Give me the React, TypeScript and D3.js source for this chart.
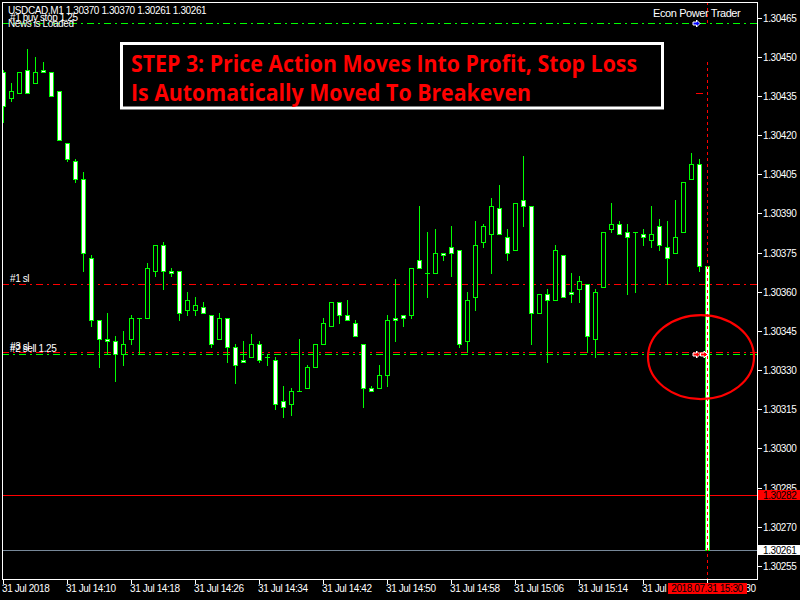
import * as React from "react"
import * as d3 from "d3"

// USDCAD M1, 31 Jul 2018 from 14:02
const symbol = "USDCAD,M1"
const startTime = new Date(2018, 6, 31, 14, 2)

const opens = [
  1.30444, 1.30434, 1.30436, 1.30445, 1.3044, 1.30445, 1.30444, 1.30437, 1.30417, 1.3041,
  1.30403, 1.30373, 1.30349, 1.30342, 1.30341, 1.30336, 1.30342, 1.3035, 1.3035, 1.30368,
  1.30378, 1.30368, 1.30368, 1.30353, 1.30353, 1.30354, 1.30351, 1.30342, 1.3035, 1.30339,
  1.30334, 1.30335, 1.3034, 1.30335, 1.30334, 1.30318, 1.30317, 1.30322, 1.30323, 1.30331,
  1.3034, 1.30347, 1.30356, 1.30351, 1.30348, 1.3034, 1.30323, 1.30323, 1.30328, 1.3035,
  1.30351, 1.30351, 1.30372, 1.30367, 1.30367, 1.30375, 1.30377, 1.30376, 1.30341, 1.30358,
  1.30379, 1.30382, 1.30392, 1.30381, 1.30376, 1.30395, 1.30393, 1.30352, 1.30359, 1.30357,
  1.30374, 1.3036, 1.30361, 1.30363, 1.30342, 1.30362, 1.30384, 1.30386, 1.30383, 1.30383,
  1.30382, 1.3038, 1.30385, 1.30377, 1.30375, 1.30383, 1.30403, 1.30409, 1.3037,
]
const highs = [
  1.30445, 1.3044, 1.30444, 1.30453, 1.3045, 1.30448, 1.30444, 1.30437, 1.30417, 1.30411,
  1.30406, 1.30374, 1.30349, 1.30352, 1.30343, 1.30345, 1.30351, 1.3035, 1.30371, 1.30378,
  1.30379, 1.30369, 1.30368, 1.3036, 1.30358, 1.30356, 1.30351, 1.30352, 1.3035, 1.3034,
  1.30341, 1.30344, 1.30341, 1.30336, 1.30335, 1.30324, 1.30323, 1.30342, 1.30332, 1.3034,
  1.3035, 1.30356, 1.30356, 1.30357, 1.30349, 1.3034, 1.30324, 1.30332, 1.30351, 1.30365,
  1.30351, 1.30369, 1.30393, 1.30383, 1.30384, 1.30375, 1.30385, 1.30376, 1.3036, 1.30387,
  1.30386, 1.30396, 1.30401, 1.30384, 1.30394, 1.30412, 1.30393, 1.30359, 1.30361, 1.30378,
  1.30374, 1.30367, 1.30366, 1.30363, 1.30361, 1.30383, 1.30394, 1.30387, 1.30386, 1.30383,
  1.30384, 1.30393, 1.30388, 1.30387, 1.30395, 1.30402, 1.30413, 1.30411, 1.3037,
]
const lows = [
  1.30425, 1.30433, 1.30436, 1.30436, 1.3044, 1.30444, 1.30435, 1.30418, 1.3041, 1.30402,
  1.30368, 1.30347, 1.30331, 1.30336, 1.30326, 1.30332, 1.3034, 1.30336, 1.3035, 1.30366,
  1.30361, 1.30366, 1.30349, 1.30351, 1.30351, 1.30352, 1.30339, 1.30342, 1.30333, 1.30325,
  1.30333, 1.30335, 1.30333, 1.30332, 1.30315, 1.30312, 1.30313, 1.30322, 1.30323, 1.30331,
  1.3034, 1.30347, 1.30348, 1.30349, 1.30343, 1.30316, 1.30322, 1.30323, 1.30324, 1.30341,
  1.30347, 1.3035, 1.30369, 1.30358, 1.30367, 1.30372, 1.30366, 1.30339, 1.30337, 1.30353,
  1.30377, 1.30367, 1.30382, 1.30372, 1.30376, 1.30385, 1.3034, 1.30352, 1.30333, 1.30357,
  1.30358, 1.30356, 1.30356, 1.30337, 1.30335, 1.30362, 1.30383, 1.30382, 1.30359, 1.3036,
  1.30378, 1.30377, 1.30376, 1.30363, 1.30375, 1.30383, 1.30403, 1.30368, 1.30261,
]
const closes = [
  1.30431, 1.30437, 1.30444, 1.30436, 1.30444, 1.30444, 1.30435, 1.30418, 1.30411, 1.30403,
  1.30375, 1.30349, 1.30342, 1.30341, 1.30336, 1.3034, 1.3035, 1.3035, 1.30369, 1.30378,
  1.30368, 1.30367, 1.30352, 1.30357, 1.30355, 1.30352, 1.3034, 1.3035, 1.30339, 1.30332,
  1.30333, 1.3034, 1.30334, 1.30335, 1.30317, 1.30316, 1.30322, 1.30322, 1.30331, 1.3034,
  1.30348, 1.30356, 1.30351, 1.30349, 1.30343, 1.30323, 1.30322, 1.30328, 1.30349, 1.30349,
  1.3035, 1.30369, 1.30369, 1.30367, 1.30375, 1.30374, 1.30375, 1.3034, 1.30357, 1.30378,
  1.30385, 1.30393, 1.30382, 1.30375, 1.30394, 1.30393, 1.30352, 1.30359, 1.30357, 1.30376,
  1.30358, 1.30359, 1.30364, 1.30343, 1.3036, 1.30383, 1.30386, 1.30382, 1.30381, 1.30383,
  1.30381, 1.30382, 1.30378, 1.30373, 1.30381, 1.30402, 1.30409, 1.3037, 1.30261,
]

const priceTicks = [
  1.30465, 1.3045, 1.30435, 1.3042, 1.30405, 1.3039, 1.30375, 1.3036, 1.30345, 1.3033,
  1.30315, 1.303, 1.30285, 1.3027, 1.30255,
]
const timeTicks = [
  "14:02", "14:10", "14:18", "14:26", "14:34", "14:42", "14:50", "14:58", "15:06", "15:14",
  "15:22", "15:30",
]
const timeTickLabels = [
  "31 Jul 2018", "31 Jul 14:10", "31 Jul 14:18", "31 Jul 14:26", "31 Jul 14:34",
  "31 Jul 14:42", "31 Jul 14:50", "31 Jul 14:58", "31 Jul 15:06", "31 Jul 15:14",
  "31 Jul 15:22", "31 Jul 15:30",
]

const orderLines = [
  { label: "#1 buy stop 1.25", price: 1.30463, color: "#00ff00" },
  { label: "#1 sl", price: 1.30363, color: "#ff0000" },
  { label: "#3 sl", price: 1.30337, color: "#ff0000" },
  { label: "#2 sell 1.25", price: 1.30336, color: "#00ff00" },
]
const askPrice = 1.30282
const bidPrice = 1.30261
const tpMark = 1.30436
const ellipsePrice = 1.30335
const titleLines = [
  "STEP 3: Price Action Moves Into Profit, Stop Loss",
  "Is Automatically Moved To Breakeven",
]

const axisFont = {
  fontFamily: "'Liberation Sans', Arial, sans-serif",
  fontSize: 10,
  letterSpacing: -0.4,
}

export default function App() {
  const plot = { left: 2, top: 2, right: 757, bottom: 579 }
  const times = opens.map((_, i) => d3.timeMinute.offset(startTime, i))
  const last = times.length - 1

  const x = d3.scaleTime().domain([times[0], times[last]]).range([3, 707])
  const y = d3.scaleLinear().domain([1.30465, 1.30255]).range([17.5, 566])
  const px = (v: number) => Math.round(v) + 0.5
  const parseTick = (s: string) => {
    const [h, m] = s.split(":").map(Number)
    return new Date(2018, 6, 31, h, m)
  }

  const f5 = d3.format(".5f")
  const header = `${symbol}  ${f5(opens[last])} ${f5(highs[last])} ${f5(lows[last])} ${f5(closes[last])}`

  const lastX = Math.round(x(times[last]))
  const prevX = Math.round(x(times[last - 1]))

  const arrow = (tipX: number, tipY: number, fill: string, key: string) => (
    <path
      key={key}
      d={`M${tipX},${tipY} l-3.5,-3.5 v2 h-3.5 v3 h3.5 v2 z`}
      fill={fill}
      stroke="#ffffff"
      strokeWidth={1}
    />
  )

  return (
    <svg
      width={800}
      height={600}
      style={{ position: "fixed", left: 0, top: 0, background: "#000" }}
    >
      <rect width={800} height={600} fill="#000" />
      <defs>
        <clipPath id="plot">
          <rect
            x={plot.left + 1}
            y={plot.top + 1}
            width={plot.right - plot.left - 1}
            height={plot.bottom - plot.top - 1}
          />
        </clipPath>
      </defs>

      <g clipPath="url(#plot)">
        {/* ask / bid lines */}
        <line x1={plot.left} x2={plot.right} y1={px(y(askPrice))} y2={px(y(askPrice))} stroke="#ff0000" />
        <line x1={plot.left} x2={plot.right} y1={px(y(bidPrice))} y2={px(y(bidPrice))} stroke="#778899" />

        {/* order lines */}
        {orderLines.map((d) => (
          <line
            key={d.label}
            x1={plot.left}
            x2={plot.right}
            y1={px(y(d.price))}
            y2={px(y(d.price))}
            stroke={d.color}
            strokeDasharray="7,4,2,4"
          />
        ))}

        {/* candles */}
        {times.map((t, i) => {
          const o = opens[i], c = closes[i]
          const cx = Math.round(x(t))
          const top = Math.round(y(Math.max(o, c)))
          const bot = Math.round(y(Math.min(o, c)))
          const hi = Math.round(y(highs[i]))
          const lo = Math.round(y(lows[i]))
          return (
            <g key={i}>
              <line x1={cx + 0.5} x2={cx + 0.5} y1={hi} y2={lo + 1} stroke="#00ff00" />
              {top === bot ? (
                <line x1={cx - 2} x2={cx + 3} y1={top + 0.5} y2={top + 0.5} stroke="#00ff00" />
              ) : (
                <rect
                  x={cx - 1.5}
                  y={top + 0.5}
                  width={4}
                  height={bot - top}
                  fill={c > o ? "#000000" : "#ffffff"}
                  stroke="#00ff00"
                />
              )}
            </g>
          )
        })}

        {/* current bar marker */}
        <line x1={lastX + 0.5} x2={lastX + 0.5} y1={plot.top} y2={px(y(1.30463))} stroke="#ff0000" strokeDasharray="3,3" />
        <line x1={lastX + 0.5} x2={lastX + 0.5} y1={62} y2={plot.bottom} stroke="#ff0000" strokeDasharray="3,3" />
        <line x1={prevX - 3} x2={prevX + 4} y1={px(y(tpMark))} y2={px(y(tpMark))} stroke="#ff0000" />

        {arrow(prevX + 1, px(y(1.30463)), "#0000ff", "buy")}
        {arrow(prevX + 1, px(y(1.30336)), "#ff0000", "s1")}
        {arrow(lastX + 0.5, px(y(1.30336)), "#ff0000", "s2")}

        <ellipse
          cx={lastX - 6}
          cy={y(ellipsePrice)}
          rx={53}
          ry={42}
          fill="none"
          stroke="#ff0000"
          strokeWidth={2.2}
        />

        {/* order labels */}
        {orderLines.map((d, i) => (
          <text
            key={d.label}
            x={i === 0 ? 10 : 10}
            y={Math.round(y(d.price)) - 2}
            fill="#ffffff"
            {...axisFont}
          >
            {d.label}
          </text>
        ))}
        <text x={8} y={14} fill="#ffffff" {...axisFont}>{header}</text>
        <text x={8} y={27} fill="#ffffff" {...axisFont}>News is Loaded</text>
        <text x={653} y={17} fill="#ffffff" {...axisFont} fontSize={11}>Econ Power Trader</text>

        {/* title box */}
        <rect x={121.5} y={43.5} width={541} height={64.5} fill="#000" stroke="#ffffff" strokeWidth={3} />
        {titleLines.map((s, i) => (
          <text
            key={s}
            x={131}
            y={72 + i * 29}
            fill="#ff0000"
            fontFamily="'Liberation Sans Narrow', 'Open Sans', Arial, sans-serif"
            fontWeight="bold"
            fontSize={24}
            textLength={i === 0 ? 506 : 400}
            lengthAdjust="spacingAndGlyphs"
          >
            {s}
          </text>
        ))}
      </g>

      {/* frame */}
      <rect
        x={plot.left + 0.5}
        y={plot.top + 0.5}
        width={plot.right - plot.left}
        height={plot.bottom - plot.top}
        fill="none"
        stroke="#ffffff"
      />

      {/* price axis */}
      {priceTicks.map((p) => {
        const ty = Math.round(y(p))
        return (
          <g key={p}>
            <line x1={plot.right + 1} x2={plot.right + 5} y1={ty + 0.5} y2={ty + 0.5} stroke="#ffffff" />
            <text x={763} y={ty + 4} fill="#ffffff" {...axisFont}>{f5(p)}</text>
          </g>
        )
      })}
      <rect x={758} y={Math.round(y(askPrice)) - 5} width={42} height={10} fill="#ff0000" />
      <text x={763} y={Math.round(y(askPrice)) + 4} fill="#000000" {...axisFont}>{f5(askPrice)}</text>
      <rect x={758} y={Math.round(y(bidPrice)) - 5} width={42} height={10} fill="#ffffff" />
      <text x={763} y={Math.round(y(bidPrice)) + 4} fill="#000000" {...axisFont}>{f5(bidPrice)}</text>

      {/* time axis */}
      {timeTicks.map((s, i) => {
        const tx = Math.round(x(parseTick(s)))
        return (
          <g key={s}>
            <line x1={tx + 0.5} x2={tx + 0.5} y1={plot.bottom + 1} y2={plot.bottom + 5} stroke="#ffffff" />
            <text x={tx - 1} y={592} fill="#ffffff" {...axisFont}>{timeTickLabels[i]}</text>
          </g>
        )
      })}
      <rect x={lastX - 39} y={583} width={79} height={11} fill="#ff0000" />
      <text x={lastX} y={592} textAnchor="middle" fill="#000000" {...axisFont}>
        {d3.timeFormat("%Y.%m.%d %H:%M")(times[last])}
      </text>
    </svg>
  )
}
